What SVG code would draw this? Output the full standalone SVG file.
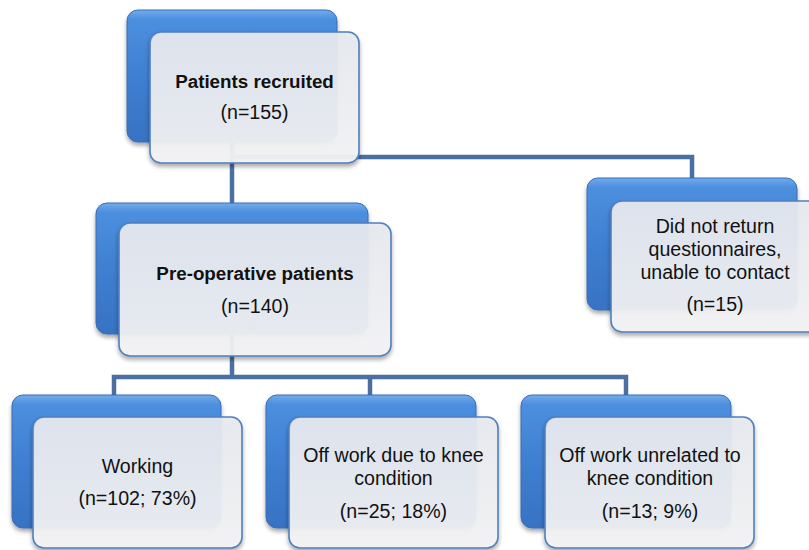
<svg xmlns="http://www.w3.org/2000/svg" width="809" height="550" viewBox="0 0 809 550">
<defs>
<linearGradient id="blueG" x1="0" y1="0" x2="0" y2="1">
<stop offset="0" stop-color="#72acec"/>
<stop offset="0.07" stop-color="#4d8fdf"/>
<stop offset="0.5" stop-color="#3f7fd1"/>
<stop offset="1" stop-color="#3772c3"/>
</linearGradient>
<linearGradient id="lightG" x1="0" y1="0" x2="0" y2="1">
<stop offset="0" stop-color="#e7eaf0"/>
<stop offset="1" stop-color="#f4f4f5"/>
</linearGradient>
<filter id="sh" x="-10%" y="-10%" width="120%" height="130%">
<feDropShadow dx="0" dy="3" stdDeviation="2.2" flood-color="#000" flood-opacity="0.35"/>
</filter>
</defs>
<style>
.blue{fill:url(#blueG);stroke:#3a6db3;stroke-width:1;filter:url(#sh)}
.light{fill:url(#lightG);fill-opacity:0.93;stroke:#4f7fbf;stroke-width:1.6;filter:url(#sh)}
.conn{fill:none;stroke:#4a70a3;stroke-width:4.5;stroke-linejoin:miter;stroke-linecap:butt}
text{font-family:"Liberation Sans",Arial,sans-serif;fill:#111;text-anchor:middle}
.b{font-weight:bold;font-size:18.8px}
.r{font-size:19.6px}
</style>
<rect width="809" height="550" fill="#fff"/>
<g id="connectors">
<path class="conn" d="M232,140 V205"/>
<path class="conn" d="M232,157 H692 V180"/>
<path class="conn" d="M232,334 V377"/>
<path class="conn" d="M114,397 V377 H626 V397"/>
<path class="conn" d="M370,377 V397"/>
</g>
<g id="recruited">
<rect class="blue" x="127" y="10" width="210" height="132" rx="11"/>
<rect class="light" x="150" y="32" width="209" height="131" rx="11"/>
<text class="b" x="254.5" y="88">Patients recruited</text>
<text class="r" x="254.5" y="119">(n=155)</text>
</g>
<g id="preop">
<rect class="blue" x="96" y="203" width="272" height="131" rx="11"/>
<rect class="light" x="119" y="223" width="272" height="133" rx="11"/>
<text class="b" x="255" y="280">Pre-operative patients</text>
<text class="r" x="255" y="313">(n=140)</text>
</g>
<g id="noreturn">
<rect class="blue" x="587" y="178" width="210" height="132" rx="11"/>
<rect class="light" x="611" y="201" width="209" height="131" rx="11"/>
<text class="r" x="715" y="233">Did not return</text>
<text class="r" x="715" y="256">questionnaires,</text>
<text class="r" x="715" y="279">unable to contact</text>
<text class="r" x="715" y="311">(n=15)</text>
</g>
<g id="working">
<rect class="blue" x="12" y="395" width="209" height="133" rx="11"/>
<rect class="light" x="33" y="417" width="209" height="131" rx="11"/>
<text class="r" x="137.5" y="473">Working</text>
<text class="r" x="137.5" y="505">(n=102; 73%)</text>
</g>
<g id="offknee">
<rect class="blue" x="266" y="395" width="210" height="133" rx="11"/>
<rect class="light" x="289" y="417" width="209" height="131" rx="11"/>
<text class="r" x="393.5" y="462">Off work due to knee</text>
<text class="r" x="393.5" y="485">condition</text>
<text class="r" x="393.5" y="518">(n=25; 18%)</text>
</g>
<g id="offunrelated">
<rect class="blue" x="521" y="395" width="210" height="133" rx="11"/>
<rect class="light" x="545" y="417" width="209" height="131" rx="11"/>
<text class="r" x="650" y="462">Off work unrelated to</text>
<text class="r" x="650" y="485">knee condition</text>
<text class="r" x="650" y="518">(n=13; 9%)</text>
</g>
</svg>
